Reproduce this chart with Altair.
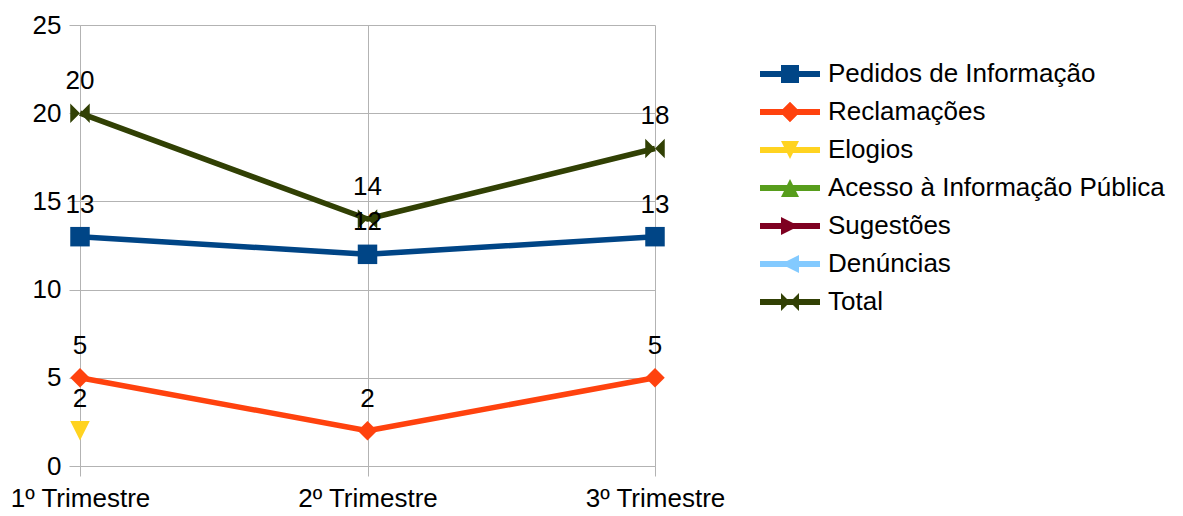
import altair as alt
import pandas as pd

categories = ["1º Trimestre", "2º Trimestre", "3º Trimestre"]
series = ["Pedidos de Informação", "Reclamações", "Elogios",
          "Acesso à Informação Pública", "Sugestões", "Denúncias", "Total"]
pedidos = [13, 12, 13]
reclamacoes = [5, 2, 5]
elogios = [2, None, None]
acesso = [None, None, None]
sugestoes = [None, None, None]
denuncias = [None, None, None]
total = [20, 14, 18]
colors = ["#004586", "#ff420e", "#ffd320", "#579d1c", "#7e0021", "#83caff", "#314004"]
y_ticks = [0, 5, 10, 15, 20, 25]

values_by_series = [pedidos, reclamacoes, elogios, acesso, sugestoes, denuncias, total]
rows = []
for s, vals in zip(series, values_by_series):
    for c, v in zip(categories, vals):
        if v is not None:
            rows.append({"trimestre": c, "serie": s, "valor": v})
df = pd.DataFrame(rows)

# marker shapes (plot)
marker_paths = [
    "M-1,-1L1,-1L1,1L-1,1Z",                      # square
    "M0,-1L1,0L0,1L-1,0Z",                         # diamond
    "M-1,-1L1,-1L0,1Z",                            # triangle down
    "M0,-1L1,1L-1,1Z",                             # triangle up
    "M-1,-1L1,0L-1,1Z",                            # triangle right
    "M1,-1L1,1L-1,0Z",                             # triangle left
    "M-1,-1L0,0L-1,1Z M1,-1L1,1L0,0Z",             # bowtie
]
bar = "M-1,-0.1L1,-0.1L1,0.1L-1,0.1Z "
m = 0.3
legend_paths = [
    bar + f"M-{m},-{m}L{m},-{m}L{m},{m}L-{m},{m}Z",
    bar + "M0,-0.34L0.34,0L0,0.34L-0.34,0Z",
    bar + f"M-{m},-{m}L{m},-{m}L0,{m}Z",
    bar + f"M0,-{m}L{m},{m}L-{m},{m}Z",
    bar + f"M-{m},-{m}L{m},0L-{m},{m}Z",
    bar + f"M{m},-{m}L{m},{m}L-{m},0Z",
    bar + f"M-{m},-{m}L0,0L-{m},{m}Z M{m},-{m}L{m},{m}L0,0Z",
]

FONT = "Liberation Sans"
GRID = "#b3b3b3"
FS = 26

x_enc = alt.X("trimestre:N", sort=categories,
              scale=alt.Scale(type="point", domain=categories, padding=0),
              axis=alt.Axis(title=None, grid=True, gridColor=GRID, domainColor=GRID,
                            tickColor=GRID, tickSize=10, labelFontSize=FS, labelFont=FONT,
                            labelColor="black", labelPadding=9, labelAngle=0))
y_enc = alt.Y("valor:Q", scale=alt.Scale(domain=[0, 25]),
              axis=alt.Axis(title=None, values=y_ticks, grid=True, gridColor=GRID,
                            domainColor=GRID, tickColor=GRID, tickSize=11,
                            labelFontSize=FS, labelFont=FONT, labelColor="black",
                            labelPadding=8))
color_scale = alt.Scale(domain=series, range=colors)

base = alt.Chart(df)
lines = base.mark_line(strokeWidth=5.5, strokeJoin="round").encode(
    x=x_enc, y=y_enc, color=alt.Color("serie:N", scale=color_scale, legend=None))
points = base.mark_point(filled=True, size=380, opacity=1).encode(
    x=x_enc, y=y_enc,
    color=alt.Color("serie:N", scale=color_scale, legend=None),
    shape=alt.Shape("serie:N", scale=alt.Scale(domain=series, range=marker_paths), legend=None))
labels = base.mark_text(fontSize=FS, font=FONT, dy=-24, baseline="alphabetic", color="black").encode(
    x=x_enc, y=y_enc, text=alt.Text("valor:Q"))

legend_df = pd.DataFrame({"lg": series})
leg = alt.Legend(title=None, orient="none", legendX=680, legendY=36, symbolSize=3600,
                 symbolStrokeWidth=0, labelFontSize=FS, labelFont=FONT, labelColor="black",
                 labelOffset=8, rowPadding=12, labelLimit=600, clipHeight=26)
legend_layer = alt.Chart(legend_df).mark_point(filled=True, opacity=1).encode(
    color=alt.Color("lg:N", scale=alt.Scale(domain=series, range=colors), legend=leg),
    shape=alt.Shape("lg:N", scale=alt.Scale(domain=series, range=legend_paths), legend=leg),
).transform_filter("false")

chart = alt.layer(lines, points, labels, legend_layer).resolve_scale(
    color="independent", shape="independent"
).properties(
    width=575, height=441,
    padding={"left": 2, "top": 4, "right": 5, "bottom": 5},
).configure_view(stroke=None)

chart.save("out.html", embed_options={"renderer": "svg", "actions": False})
